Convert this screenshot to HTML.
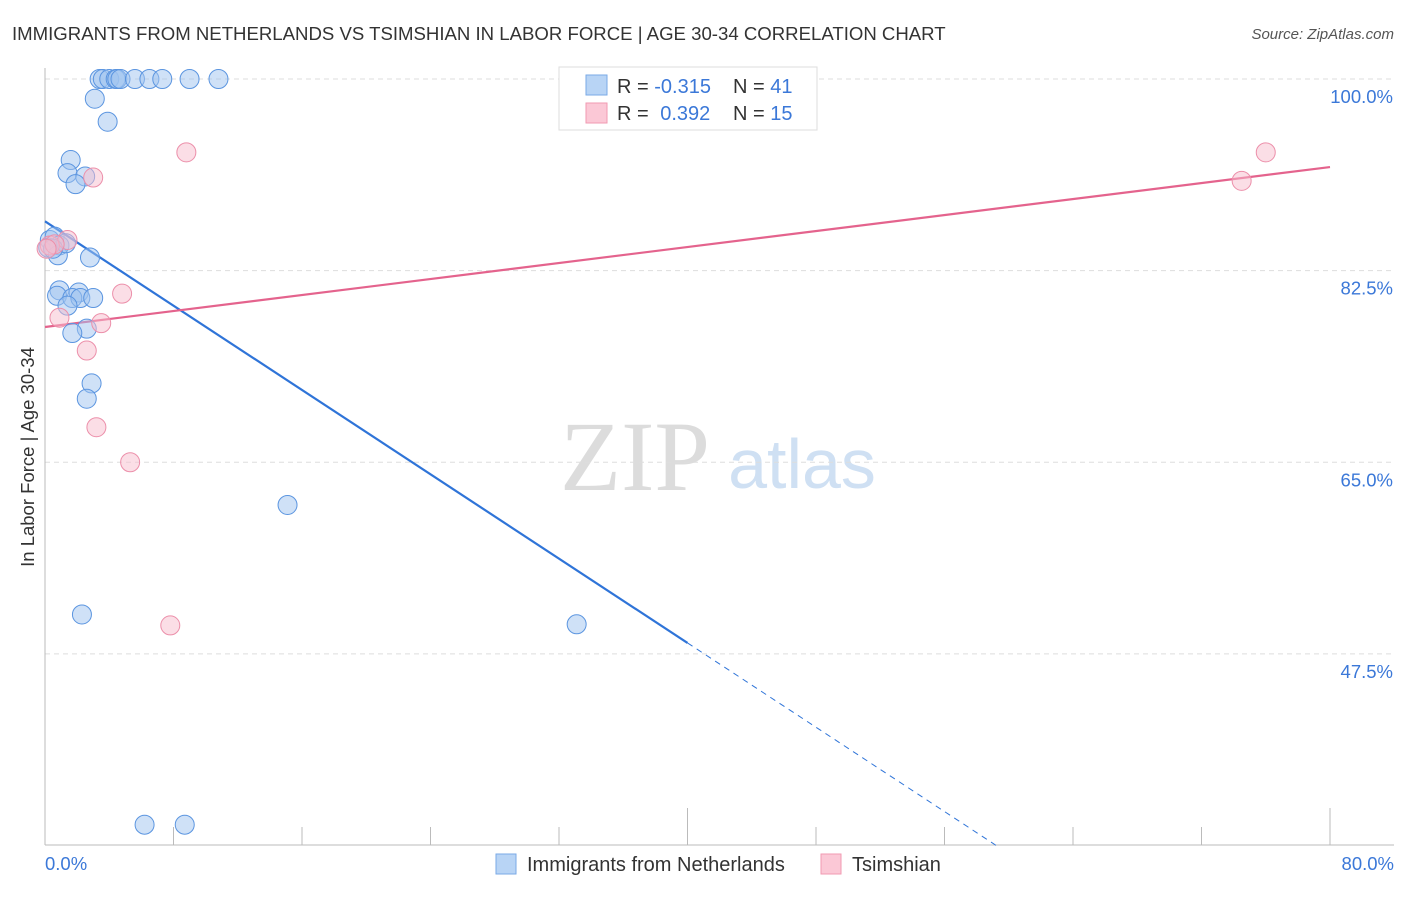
<!DOCTYPE html>
<html><head><meta charset="utf-8"><style>
body{margin:0;background:#fff;font-family:"Liberation Sans",sans-serif}
svg text{font-family:"Liberation Sans",sans-serif}
svg text.serif{font-family:"Liberation Serif",serif}
</style></head><body>
<svg id="chart" width="1406" height="892" viewBox="0 0 1406 892" xmlns="http://www.w3.org/2000/svg">
<text x="12" y="40" font-size="18.6" fill="#333">IMMIGRANTS FROM NETHERLANDS VS TSIMSHIAN IN LABOR FORCE | AGE 30-34 CORRELATION CHART</text>
<text x="1394" y="39" font-size="15" fill="#555" font-style="italic" text-anchor="end">Source: ZipAtlas.com</text>
<text class="serif" x="635" y="490" font-size="100" fill="#dcdcdc" text-anchor="middle">ZIP</text>
<text x="802" y="488" font-size="70" fill="#cfe0f3" text-anchor="middle">atlas</text>
<g id="grid"></g>
<g id="axes"></g>
<text transform="translate(34,457) rotate(-90)" font-size="18.5" fill="#333" text-anchor="middle">In Labor Force | Age 30-34</text>
<g id="lines"></g>
<g id="points"></g>
<g>
<rect x="559" y="67" width="258" height="63" fill="#fff" stroke="#ddd"/>
<rect x="586" y="75" width="21" height="20" fill="#b8d4f5" stroke="#7aaae6"/>
<rect x="586" y="103" width="21" height="20" fill="#fbc8d6" stroke="#f09ab2"/>
<text x="617" y="93" font-size="20" fill="#333">R = <tspan fill="#3b78d8">-0.315</tspan></text>
<text x="733" y="93" font-size="20" fill="#333">N = <tspan fill="#3b78d8">41</tspan></text>
<text x="617" y="120" font-size="20" fill="#333">R = <tspan fill="#3b78d8" dx="6">0.392</tspan></text>
<text x="733" y="120" font-size="20" fill="#333">N = <tspan fill="#3b78d8">15</tspan></text>
</g>
<g>
<rect x="496" y="854" width="20" height="20" fill="#b8d4f5" stroke="#7aaae6"/>
<text x="527" y="871" font-size="20" fill="#333">Immigrants from Netherlands</text>
<rect x="821" y="854" width="20" height="20" fill="#fbc8d6" stroke="#f09ab2"/>
<text x="852" y="871" font-size="20" fill="#333">Tsimshian</text>
</g>
</svg>
<script>
const yTicks=[100,82.5,65,47.5];
const xTickLabels=["0.0%","80.0%"];
const blueX=[3.4,3.6,4.0,4.4,4.5,4.7,5.6,6.5,7.3,9.0,10.8,3.1,3.9,1.6,1.4,2.5,1.9,0.3,0.6,0.9,0.2,0.8,1.3,0.5,2.8,0.9,0.75,2.1,1.7,2.2,3.0,1.4,2.6,1.7,2.9,2.6,15.1,2.3,33.1,6.2,8.7];
const blueY=[100,100,100,100,100,100,100,100,100,100,100,98.2,96.1,92.6,91.4,91.1,90.4,85.3,85.6,84.8,84.6,83.9,85.0,84.5,83.7,80.7,80.2,80.5,80.0,80.0,80.0,79.3,77.2,76.8,72.2,70.8,61.1,51.1,50.2,31.9,31.9];
const pinkX=[8.8,3.0,76.0,74.5,1.4,0.3,0.6,0.1,4.8,0.9,3.5,2.6,3.2,5.3,7.8];
const pinkY=[93.3,91.0,93.3,90.7,85.3,84.8,84.9,84.5,80.4,78.2,77.7,75.2,68.2,65.0,50.1];
const blueLine=[87.0,-0.9625];
const pinkLine=[77.35,0.1826];
const NS="http://www.w3.org/2000/svg";
const X=v=>45+v/80*1285, Y=v=>79+(100-v)*10.95;
function mk(t,a,p){const e=document.createElementNS(NS,t);for(const k in a)e.setAttribute(k,a[k]);p.appendChild(e);return e;}
const grid=document.getElementById('grid'),axes=document.getElementById('axes'),lines=document.getElementById('lines'),pts=document.getElementById('points');
yTicks.forEach(v=>{
 const l=mk('line',{x1:45,x2:1394,y1:Y(v),y2:Y(v),stroke:'#ddd','stroke-dasharray':'5,4'},grid);
 
 
 const t=mk('text',{x:1393,y:Y(v)+24,'font-size':18.5,fill:'#3b78d8','text-anchor':'end'},axes);
 t.textContent=v.toFixed(1)+'%';
 
 
});
let a=mk('line',{x1:45,x2:45,y1:68,y2:845,stroke:'#bbb'},axes);


a=mk('line',{x1:45,x2:1394,y1:845,y2:845,stroke:'#bbb'},axes);


for(let i=0;i<=10;i++){const v=i*8;const major=(i==5||i==10);
 const t=mk('line',{x1:X(v),x2:X(v),y1:major?808:827,y2:845,stroke:'#bbb'},axes);
 
 }
xTickLabels.forEach((s,i)=>{const t=mk('text',{x:i?1394:45,y:870,'font-size':18.5,fill:'#3b78d8','text-anchor':i?'end':'start'},axes);t.textContent=s;
 
 });
function yv(L,x){return L[0]+L[1]*x;}
let ln=mk('line',{x1:X(0),y1:Y(yv(blueLine,0)),x2:X(40),y2:Y(yv(blueLine,40)),stroke:'#2f74d8','stroke-width':2.2},lines);


const xe=(30-blueLine[0])/blueLine[1];
ln=mk('line',{x1:X(40),y1:Y(yv(blueLine,40)),x2:X(xe),y2:Y(30),stroke:'#2f74d8','stroke-width':1,'stroke-dasharray':'6,5'},lines);


ln=mk('line',{x1:X(0),y1:Y(yv(pinkLine,0)),x2:X(80),y2:Y(yv(pinkLine,80)),stroke:'#e4638d','stroke-width':2.2},lines);


blueX.forEach((x,i)=>{const c=mk('circle',{cx:X(x),cy:Y(blueY[i]),r:9.5,fill:'rgba(160,196,240,0.5)',stroke:'#5b95e0','stroke-width':1},pts);
 
 });
pinkX.forEach((x,i)=>{const c=mk('circle',{cx:X(x),cy:Y(pinkY[i]),r:9.5,fill:'rgba(248,190,206,0.5)',stroke:'#ec8faa','stroke-width':1},pts);
 
 });
</script>
</body></html>
